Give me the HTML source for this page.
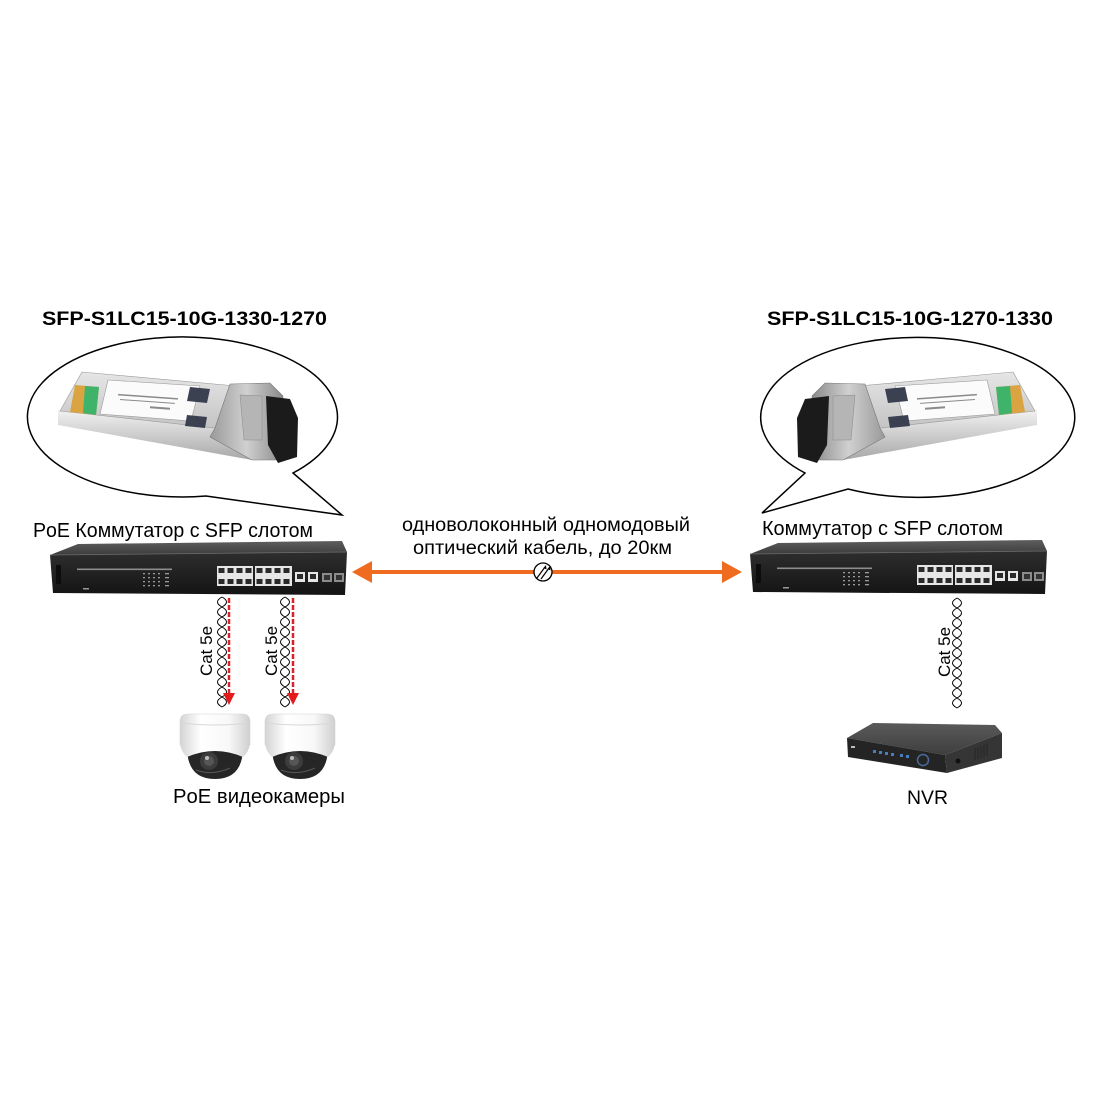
<!DOCTYPE html>
<html><head><meta charset="utf-8"><style>
html,body{margin:0;padding:0;background:#fff;}
svg{display:block;}
text{font-family:"Liberation Sans","Noto Sans CJK SC",sans-serif;fill:#000;}
</style></head><body>
<svg width="1100" height="1100" viewBox="0 0 1100 1100" xmlns="http://www.w3.org/2000/svg">
<defs>
<linearGradient id="gtop" x1="0" y1="0" x2="0" y2="1"><stop offset="0" stop-color="#5e5e5e"/><stop offset="1" stop-color="#3c3c3c"/></linearGradient>
<linearGradient id="gfront" x1="0" y1="0" x2="0" y2="1"><stop offset="0" stop-color="#2e2e2e"/><stop offset="1" stop-color="#141414"/></linearGradient>
<linearGradient id="gsfp" x1="0" y1="0" x2="0" y2="1"><stop offset="0" stop-color="#e6e6e6"/><stop offset="1" stop-color="#c4c4c4"/></linearGradient>
<linearGradient id="gside" x1="0" y1="0" x2="0" y2="1"><stop offset="0" stop-color="#f2f2f2"/><stop offset="1" stop-color="#a8a8a8"/></linearGradient>
<linearGradient id="gcage" x1="0" y1="0" x2="1" y2="0"><stop offset="0" stop-color="#9a9a9a"/><stop offset="0.5" stop-color="#d0d0d0"/><stop offset="1" stop-color="#8a8a8a"/></linearGradient>
<linearGradient id="gcam" x1="0" y1="0" x2="1" y2="0"><stop offset="0" stop-color="#d4d4d4"/><stop offset="0.3" stop-color="#ffffff"/><stop offset="0.7" stop-color="#f8f8f8"/><stop offset="1" stop-color="#cfcfcf"/></linearGradient>
<linearGradient id="gnvrtop" x1="0" y1="0" x2="0" y2="1"><stop offset="0" stop-color="#5a5a5a"/><stop offset="1" stop-color="#3e3e3e"/></linearGradient>
</defs>

<!-- Titles -->
<text x="42" y="325" font-size="19" font-weight="bold" textLength="285" lengthAdjust="spacingAndGlyphs">SFP-S1LC15-10G-1330-1270</text>
<text x="767" y="325" font-size="19" font-weight="bold" textLength="286" lengthAdjust="spacingAndGlyphs">SFP-S1LC15-10G-1270-1330</text>

<!-- Bubbles -->
<path d="M206,496 A155,80 0 1,1 293,473 L342,515 Z" fill="#fff" stroke="#000" stroke-width="1.5" stroke-linejoin="miter"/>
<path d="M848,489 A157,80 0 1,0 805,473 L762,513 Z" fill="#fff" stroke="#000" stroke-width="1.5" stroke-linejoin="miter"/>

<!-- SFP module (left) -->
<g id="sfp">
  <polygon points="58,410 215,428 252,460 58,425" fill="url(#gside)"/>
  <polygon points="82,372 236,386 215,428 60,411" fill="url(#gsfp)" stroke="#9a9a9a" stroke-width="0.6"/>
  <polygon points="75,385 99,387 96,415 70,412" fill="#d9a441"/>
  <polygon points="85,386 99,387 96,415 83,413" fill="#3fb36a"/>
  <polygon points="108,380 200,386 191,421 100,414" fill="#fbfbfb" stroke="#9a9a9a" stroke-width="0.6"/>
  <g fill="#8a8a8a">
    <rect x="118" y="396" width="60" height="1.5" transform="rotate(4 148 397)"/>
    <rect x="120" y="401" width="55" height="1" transform="rotate(4 148 401)"/>
    <rect x="150" y="407" width="20" height="2" transform="rotate(4 160 408)"/>
  </g>
  <polygon points="190,387 210,389 207,403 187,401" fill="#3b4150"/>
  <polygon points="187,415 207,417 205,428 185,426" fill="#3b4150"/>
  <polygon points="230,384 270,383 283,396 280,460 252,460 210,437 215,428" fill="url(#gcage)" stroke="#777" stroke-width="0.6"/>
  <polygon points="240,395 262,396 262,440 244,440" fill="#b5b5b5" stroke="#888" stroke-width="0.5"/>
  <polygon points="266,396 290,399 298,418 297,457 278,463 268,445" fill="#1b1b1b"/>
</g>
<use href="#sfp" transform="translate(1095,0) scale(-1,1)"/>

<!-- Switch labels -->
<text x="33" y="537" font-size="20" textLength="280" lengthAdjust="spacingAndGlyphs">PoE Коммутатор с SFP слотом</text>
<text x="762" y="535" font-size="20" textLength="241" lengthAdjust="spacingAndGlyphs">Коммутатор с SFP слотом</text>

<!-- Switch (left) -->
<g id="sw">
  <polygon points="50,555 78,544 342,541 347,552" fill="url(#gtop)"/>
  <polygon points="50,555 347,552 345,595 53,593" fill="url(#gfront)"/>
  <line x1="50" y1="555" x2="347" y2="552" stroke="#6a6a6a" stroke-width="0.8"/>
  <rect x="56" y="565" width="5" height="19" fill="#0c0c0c"/>
  <rect x="77" y="568.5" width="95" height="1.6" fill="#bbb" opacity="0.7"/>
  <g fill="#9a9a9a">
    <rect x="143" y="573" width="2" height="1.3"/><rect x="148" y="573" width="2" height="1.3"/><rect x="153" y="573" width="2" height="1.3"/><rect x="158" y="573" width="2" height="1.3"/><rect x="165" y="573" width="4" height="1.3"/>
    <rect x="143" y="577" width="2" height="1.3"/><rect x="148" y="577" width="2" height="1.3"/><rect x="153" y="577" width="2" height="1.3"/><rect x="158" y="577" width="2" height="1.3"/><rect x="165" y="577" width="4" height="1.3"/>
    <rect x="143" y="581" width="2" height="1.3"/><rect x="148" y="581" width="2" height="1.3"/><rect x="153" y="581" width="2" height="1.3"/><rect x="158" y="581" width="2" height="1.3"/><rect x="165" y="581" width="4" height="1.3"/>
    <rect x="143" y="585" width="2" height="1.3"/><rect x="148" y="585" width="2" height="1.3"/><rect x="153" y="585" width="2" height="1.3"/><rect x="158" y="585" width="2" height="1.3"/><rect x="165" y="585" width="4" height="1.3"/>
    <rect x="83" y="588" width="6" height="1.5"/>
  </g>
  <rect x="217" y="566" width="36" height="20" fill="#e6e6e6"/>
  <rect x="255" y="566" width="37" height="20" fill="#e6e6e6"/>
  <g fill="#2a2a2a">
    <rect x="218.5" y="568" width="6" height="5"/><rect x="227.5" y="568" width="6" height="5"/><rect x="236.5" y="568" width="6" height="5"/><rect x="245.5" y="568" width="6" height="5"/>
    <rect x="218.5" y="579" width="6" height="5"/><rect x="227.5" y="579" width="6" height="5"/><rect x="236.5" y="579" width="6" height="5"/><rect x="245.5" y="579" width="6" height="5"/>
    <rect x="256.5" y="568" width="6" height="5"/><rect x="265.5" y="568" width="6" height="5"/><rect x="274.5" y="568" width="6" height="5"/><rect x="283.5" y="568" width="6" height="5"/>
    <rect x="256.5" y="579" width="6" height="5"/><rect x="265.5" y="579" width="6" height="5"/><rect x="274.5" y="579" width="6" height="5"/><rect x="283.5" y="579" width="6" height="5"/>
  </g>
  <rect x="295" y="572" width="10" height="10" fill="#e6e6e6"/><rect x="297" y="574" width="6" height="5" fill="#2a2a2a"/>
  <rect x="308" y="572" width="10" height="10" fill="#e6e6e6"/><rect x="310" y="574" width="6" height="5" fill="#2a2a2a"/>
  <rect x="322" y="573" width="10" height="9" fill="#8c8c8c"/><rect x="324" y="575" width="6" height="5" fill="#333"/>
  <rect x="334" y="573" width="10" height="9" fill="#8c8c8c"/><rect x="336" y="575" width="6" height="5" fill="#333"/>
</g>
<use href="#sw" transform="translate(700,-1)"/>

<!-- Fiber arrow -->
<line x1="368" y1="572" x2="726" y2="572" stroke="#ef6b1f" stroke-width="4"/>
<polygon points="352,572 372,561 372,583" fill="#ef6b1f"/>
<polygon points="742,572 722,561 722,583" fill="#ef6b1f"/>
<circle cx="543" cy="572" r="9" fill="#fff" stroke="#000" stroke-width="1.3"/>
<line x1="537" y1="578" x2="545" y2="567" stroke="#000" stroke-width="1.2"/>
<line x1="541" y1="579" x2="549" y2="568" stroke="#000" stroke-width="1.2"/>
<polygon points="546,565 546.5,569.5 543.5,568" fill="#000"/>
<polygon points="550,566 550.5,570.5 547.5,569" fill="#000"/>
<text x="402" y="531" font-size="19" textLength="288" lengthAdjust="spacingAndGlyphs">одноволоконный одномодовый</text>
<text x="413" y="554" font-size="19" textLength="259" lengthAdjust="spacingAndGlyphs">оптический кабель, до 20км</text>

<!-- Twisted pairs -->
<g fill="none" stroke="#000" stroke-width="1">
  <path d="M222,597 q9,5 0,10 q-9,5 0,10 q9,5 0,10 q-9,5 0,10 q9,5 0,10 q-9,5 0,10 q9,5 0,10 q-9,5 0,10 q9,5 0,10 q-9,5 0,10 q9,5 0,10"/>
  <path d="M222,597 q-9,5 0,10 q9,5 0,10 q-9,5 0,10 q9,5 0,10 q-9,5 0,10 q9,5 0,10 q-9,5 0,10 q9,5 0,10 q-9,5 0,10 q9,5 0,10 q-9,5 0,10"/>
  <path d="M285,597 q9,5 0,10 q-9,5 0,10 q9,5 0,10 q-9,5 0,10 q9,5 0,10 q-9,5 0,10 q9,5 0,10 q-9,5 0,10 q9,5 0,10 q-9,5 0,10 q9,5 0,10"/>
  <path d="M285,597 q-9,5 0,10 q9,5 0,10 q-9,5 0,10 q9,5 0,10 q-9,5 0,10 q9,5 0,10 q-9,5 0,10 q9,5 0,10 q-9,5 0,10 q9,5 0,10 q-9,5 0,10"/>
  <path d="M957,598 q9,5 0,10 q-9,5 0,10 q9,5 0,10 q-9,5 0,10 q9,5 0,10 q-9,5 0,10 q9,5 0,10 q-9,5 0,10 q9,5 0,10 q-9,5 0,10 q9,5 0,10"/>
  <path d="M957,598 q-9,5 0,10 q9,5 0,10 q-9,5 0,10 q9,5 0,10 q-9,5 0,10 q9,5 0,10 q-9,5 0,10 q9,5 0,10 q-9,5 0,10 q9,5 0,10 q-9,5 0,10"/>
</g>

<!-- Red dashed arrows -->
<line x1="229" y1="598" x2="229" y2="694" stroke="#d8232a" stroke-width="2.5" stroke-dasharray="5,2"/>
<polygon points="223,693 235,693 229,705" fill="#e41b1b"/>
<line x1="293" y1="598" x2="293" y2="694" stroke="#d8232a" stroke-width="2.5" stroke-dasharray="5,2"/>
<polygon points="287,693 299,693 293,705" fill="#e41b1b"/>

<!-- Cat 5e labels -->
<text transform="translate(212,651) rotate(-90)" text-anchor="middle" font-size="17">Cat 5e</text>
<text transform="translate(277,651) rotate(-90)" text-anchor="middle" font-size="17">Cat 5e</text>
<text transform="translate(950,652) rotate(-90)" text-anchor="middle" font-size="17">Cat 5e</text>

<!-- Cameras -->
<g id="cam">
  <path d="M180,745 L180,722 Q180,714 188,714 L242,714 Q250,714 250,722 L250,745 Z" fill="url(#gcam)" stroke="#d2d2d2" stroke-width="0.6"/>
  <path d="M181,723 Q215,727 249,723" stroke="#d8d8d8" stroke-width="1" fill="none"/>
  <path d="M187,747 Q187,779 215,779 Q243,779 243,747 Z" fill="#262626"/>
  <path d="M180,743 L250,743 Q249,752 243,757 Q215,745 187,757 Q181,752 180,743 Z" fill="url(#gcam)"/>
  <circle cx="209" cy="761" r="9" fill="#3c3c3c"/>
  <circle cx="209" cy="761" r="5" fill="#565656"/>
  <circle cx="207" cy="758" r="2" fill="#bdbdbd"/>
  <path d="M196,770 Q212,776 230,768" stroke="#555" stroke-width="1.2" fill="none"/>
</g>
<use href="#cam" transform="translate(85,0)"/>
<text x="173" y="803" font-size="20" textLength="172" lengthAdjust="spacingAndGlyphs">PoE видеокамеры</text>

<!-- NVR -->
<polygon points="847,738 873,723 995,725 1002,733 945,755" fill="url(#gnvrtop)"/>
<polygon points="847,738 945,755 947,773 848,757" fill="#242424"/>
<polygon points="945,755 1002,733 1002,758 947,773" fill="#353535"/>
<g fill="#4a7cc0">
  <rect x="873" y="750" width="3" height="3"/><rect x="879" y="751" width="3" height="3"/><rect x="885" y="752" width="3" height="3"/><rect x="891" y="753" width="3" height="3"/>
  <rect x="900" y="754" width="3" height="3"/><rect x="906" y="755" width="3" height="3"/>
</g>
<rect x="851" y="746" width="4" height="2" fill="#bbb"/>
<circle cx="923" cy="760" r="5.5" fill="none" stroke="#4a6a9a" stroke-width="1.5"/>
<g stroke="#222" stroke-width="0.8">
  <line x1="975" y1="748" x2="975" y2="760"/><line x1="978" y1="747" x2="978" y2="759"/><line x1="981" y1="746" x2="981" y2="758"/><line x1="984" y1="745" x2="984" y2="757"/><line x1="987" y1="744" x2="987" y2="756"/>
</g>
<circle cx="958" cy="761" r="2.5" fill="#111"/>
<text x="907" y="804" font-size="19" textLength="41" lengthAdjust="spacingAndGlyphs">NVR</text>
</svg>
</body></html>
